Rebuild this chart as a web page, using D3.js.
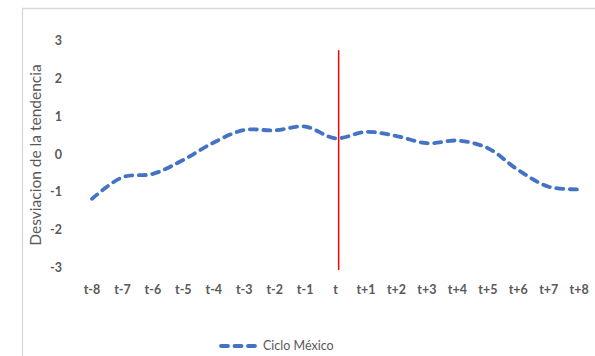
<!DOCTYPE html>
<html><head><meta charset="utf-8">
<script src="https://cdn.jsdelivr.net/npm/d3@7"></script>
<style>body{margin:0;background:#fff}svg{display:block}</style>
</head><body>
<script>
const categories = ["t-8","t-7","t-6","t-5","t-4","t-3","t-2","t-1","t","t+1","t+2","t+3","t+4","t+5","t+6","t+7","t+8"];
const cicloMexico = [-1.18,-0.61,-0.52,-0.15,0.31,0.64,0.63,0.73,0.42,0.59,0.48,0.29,0.36,0.16,-0.42,-0.86,-0.93];
const yTicks = [3,2,1,0,-1,-2,-3];
const markerCategoryIndex = 8.1;
const markerRange = [2.75,-3.06];
const seriesName = "Ciclo México";
const yTitle = "Desviacion de la tendencia";

const W=595,H=356;
const svg=d3.select("body").append("svg").attr("width",W).attr("height",H);
const font="Lato, 'Open Sans', sans-serif";

// outer border
svg.append("path").attr("d","M22.5,"+H+"V8.5H"+W).attr("fill","none").attr("stroke","#D9D9D9").attr("stroke-width",1.3);

const xi=d3.scaleLinear().domain([0,categories.length-1]).range([92,579.2]);
const y=d3.scaleLinear().domain([-3,3]).range([267.7,40.7]);

// y ticks
svg.append("g").selectAll("text").data(yTicks).join("text")
 .attr("x",62).attr("y",d=>y(d)).attr("dy","0.35em").attr("text-anchor","end")
 .attr("font-family",font).attr("font-weight","bold").attr("font-size",12.5).attr("fill","#595959").text(d=>d);

// x ticks
svg.append("g").selectAll("text").data(categories).join("text")
 .attr("x",(d,i)=>xi(i)).attr("y",290).attr("dy","0.35em").attr("text-anchor","middle")
 .attr("font-family",font).attr("font-weight","bold").attr("font-size",12.5).attr("fill","#595959").text(d=>d);

// y title
svg.append("text").attr("transform","translate(36,155) rotate(-90)").attr("text-anchor","middle").attr("dy","0.35em")
 .attr("font-family",font).attr("font-size",15.5).attr("fill","#595959").text(yTitle);

// series line
const line=d3.line().x((d,i)=>xi(i)).y(d=>y(d)).curve(d3.curveCatmullRom.alpha(0.5));
svg.append("path").datum(cicloMexico).attr("d",line).attr("fill","none")
 .attr("stroke","#4472C4").attr("stroke-width",3.8).attr("stroke-linecap","round").attr("stroke-dasharray","7,6.5");

// red vertical marker
svg.append("line").attr("x1",xi(markerCategoryIndex)).attr("x2",xi(markerCategoryIndex))
 .attr("y1",y(markerRange[0])).attr("y2",y(markerRange[1])).attr("stroke","#FF0000").attr("stroke-width",1.5);

// legend
const lg=svg.append("g");
lg.append("line").attr("x1",221).attr("x2",255).attr("y1",346).attr("y2",346)
 .attr("stroke","#4472C4").attr("stroke-width",3.8).attr("stroke-linecap","round").attr("stroke-dasharray","7,6.5");
lg.append("text").attr("x",263).attr("y",346).attr("dy","0.35em").attr("font-family",font).attr("font-size",12.5)
 .attr("fill","#595959").text(seriesName);
</script>
</body></html>
